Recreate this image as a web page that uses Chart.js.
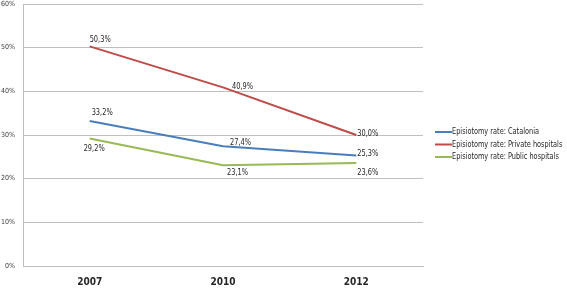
<!DOCTYPE html>
<html><head><meta charset="utf-8">
<script src="https://cdn.jsdelivr.net/npm/chart.js@4/dist/chart.umd.min.js"></script>
<style>html,body{margin:0;padding:0;background:#fff}#wrap{width:567px;height:288px}</style>
</head><body><div id="wrap"><canvas id="c" width="567" height="288"></canvas></div>
<script>
const categories = ['2007', '2010', '2012'];
const catalonia = [33.2, 27.4, 25.3];
const privateHosp = [50.3, 40.9, 30.0];
const publicHosp = [29.2, 23.1, 23.6];
const seriesNames = ['Episiotomy rate: Catalonia', 'Episiotomy rate: Private hospitals', 'Episiotomy rate: Public hospitals'];
const yTicks = [0, 10, 20, 30, 40, 50, 60];

const colors = ['#4A7EBB', '#BE4B48', '#98B954'];
// label offsets (dx, dy from point) per dataset/point
const labelPlacement = [
  [[2, -8], [7, -4], [1, -2]],
  [[0, -7], [9, -1], [1, -1]],
  [[-6, 10], [4, 8], [1, 10]]
];

const fmt = v => v.toFixed(1).replace('.', ',') + '%';
const FONT = '"Liberation Sans Narrow", "DejaVu Sans Condensed", Arial, sans-serif';

const dataLabels = {
  id: 'dataLabels',
  afterDatasetsDraw(chart) {
    const ctx = chart.ctx;
    ctx.save();
    ctx.font = '9px ' + FONT;
    ctx.fillStyle = '#262626';
    ctx.textBaseline = 'middle';
    ctx.textAlign = 'left';
    chart.data.datasets.forEach((ds, i) => {
      const meta = chart.getDatasetMeta(i);
      meta.data.forEach((pt, j) => {
        const p = labelPlacement[i][j];
        const t = fmt(ds.data[j]);
        const w = ctx.measureText(t).width;
        ctx.fillText(t, pt.x + p[0], pt.y + p[1], Math.min(w, 21));
      });
    });
    ctx.restore();
  }
};

const customLegend = {
  id: 'customLegend',
  afterDraw(chart) {
    const ctx = chart.ctx;
    ctx.save();
    ctx.font = '9px ' + FONT;
    ctx.fillStyle = '#262626';
    ctx.textBaseline = 'middle';
    ctx.textAlign = 'left';
    const x0 = 435, ys = [132, 144.5, 157];
    const k = 87 / ctx.measureText(seriesNames[0]).width;
    chart.data.datasets.forEach((ds, i) => {
      ctx.strokeStyle = ds.borderColor;
      ctx.lineWidth = 2;
      ctx.beginPath();
      ctx.moveTo(x0, ys[i]);
      ctx.lineTo(x0 + 17, ys[i]);
      ctx.stroke();
      const w = ctx.measureText(ds.label).width;
      ctx.fillText(ds.label, x0 + 17, ys[i], w * Math.min(k, 1));
    });
    ctx.restore();
  }
};

new Chart(document.getElementById('c'), {
  type: 'line',
  data: {
    labels: categories,
    datasets: [
      { label: seriesNames[0], data: catalonia, borderColor: colors[0], backgroundColor: colors[0] },
      { label: seriesNames[1], data: privateHosp, borderColor: colors[1], backgroundColor: colors[1] },
      { label: seriesNames[2], data: publicHosp, borderColor: colors[2], backgroundColor: colors[2] }
    ]
  },
  options: {
    responsive: false,
    animation: false,
    devicePixelRatio: 1,
    layout: { padding: { top: 4, right: 144, bottom: 0, left: 0 } },
    elements: { point: { radius: 0 }, line: { borderWidth: 2, tension: 0 } },
    plugins: { legend: { display: false }, tooltip: { enabled: false } },
    scales: {
      x: {
        offset: true,
        grid: { display: false, drawTicks: false },
        border: { display: true, color: '#BEBEBE', width: 1 },
        ticks: { color: '#262626', font: { family: FONT, size: 10, weight: 'bold' }, padding: 10 },
        afterFit(s) { s.height = 22; s.paddingLeft = 0; s.paddingRight = 0; }
      },
      y: {
        min: 0, max: 60,
        afterBuildTicks(s) { s.ticks = yTicks.map(v => ({ value: v })); },
        grid: { color: '#C0C0C0', lineWidth: 1, drawTicks: false },
        border: { display: true, color: '#BEBEBE', width: 1 },
        ticks: { color: '#404040', font: { family: FONT, size: 7 }, padding: 8, callback: v => v + '%' },
        afterFit(s) { s.width = 23; s.paddingTop = 0; s.paddingBottom = 0; }
      }
    }
  },
  plugins: [dataLabels, customLegend]
});
</script>
</body></html>
